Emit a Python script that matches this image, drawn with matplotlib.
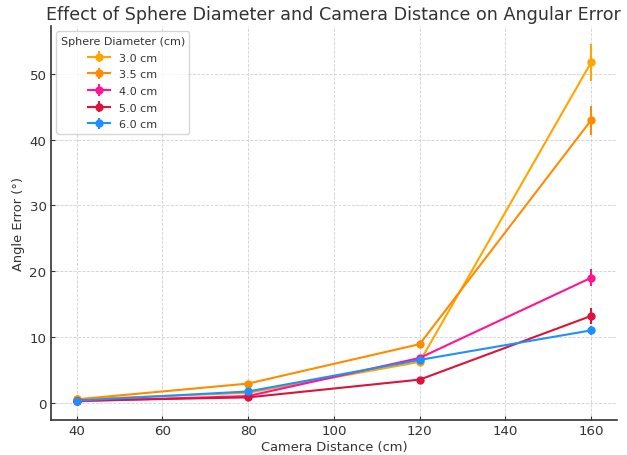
import numpy as np
import matplotlib.pyplot as plt

distances = [40, 80, 120, 160]
diameters = ["3.0 cm", "3.5 cm", "4.0 cm", "5.0 cm", "6.0 cm"]
colors = ["#FFA500", "#FF8C00", "#FF1493", "#DC143C", "#1E90FF"]

err_30 = [0.5, 1.5, 6.2, 51.8]
err_35 = [0.5, 2.9, 8.9, 43.0]
err_40 = [0.2, 1.0, 6.8, 19.0]
err_50 = [0.3, 0.8, 3.5, 13.2]
err_60 = [0.3, 1.7, 6.5, 11.0]

std_30 = [0.1, 0.2, 0.4, 2.8]
std_35 = [0.1, 0.2, 0.5, 2.2]
std_40 = [0.1, 0.1, 0.4, 1.3]
std_50 = [0.1, 0.1, 0.3, 1.2]
std_60 = [0.1, 0.1, 0.3, 0.7]

means = [err_30, err_35, err_40, err_50, err_60]
stds = [std_30, std_35, std_40, std_50, std_60]

plt.rcParams["text.color"] = "#333333"
plt.rcParams["axes.labelcolor"] = "#333333"
plt.rcParams["xtick.color"] = "#333333"
plt.rcParams["ytick.color"] = "#333333"

fig, ax = plt.subplots(figsize=(6.27, 4.56), dpi=100)
fig.subplots_adjust(left=0.081, right=0.984, bottom=0.077, top=0.941)

for label, c, m, s in zip(diameters, colors, means, stds):
    ax.errorbar(distances, m, yerr=s, label=label, color=c, marker="o",
                markersize=5, linewidth=1.5, elinewidth=1.5, capsize=0)

ax.set_title("Effect of Sphere Diameter and Camera Distance on Angular Error",
             fontsize=12.6, pad=5)
ax.set_xlabel("Camera Distance (cm)", fontsize=9.4, labelpad=2)
ax.set_ylabel("Angle Error (°)", fontsize=9.4, labelpad=3)
ax.set_xticks([40, 60, 80, 100, 120, 140, 160])
ax.tick_params(labelsize=9.6, direction="in", length=3, pad=3)
ax.grid(True, linestyle="--", color="#d0d0d0", linewidth=0.6)
ax.spines["top"].set_visible(False)
ax.spines["right"].set_visible(False)
for side in ["left", "bottom"]:
    ax.spines[side].set_color("#333333")
    ax.spines[side].set_linewidth(1.2)

leg = ax.legend(title="Sphere Diameter (cm)", fontsize=8, title_fontsize=8,
                loc="upper left", labelspacing=0.6)

fig.savefig("out.png")
